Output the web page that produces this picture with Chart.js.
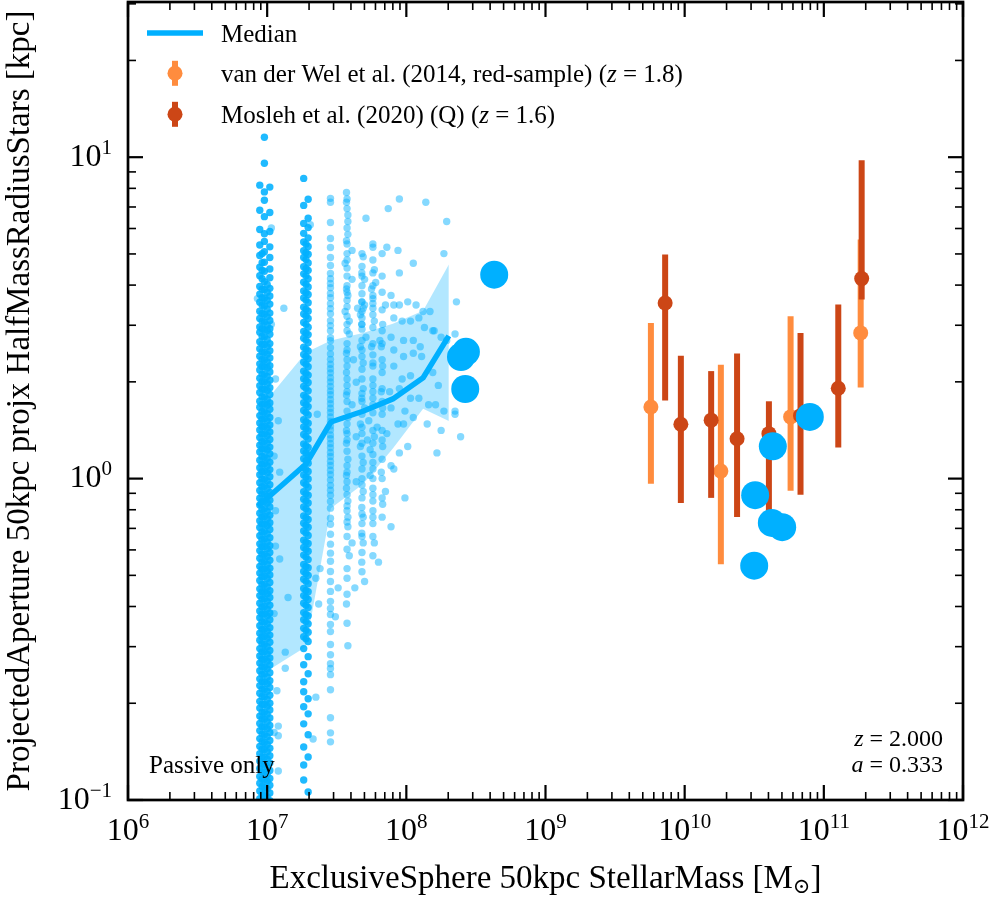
<!DOCTYPE html>
<html lang="en">
<head>
  <meta charset="UTF-8">
  <title>Passive galaxy sizes, z = 2</title>
  <script src="https://cdn.jsdelivr.net/npm/chart.js"></script>
  <style>
    html, body { margin: 0; padding: 0; background: #fff; }
  </style>
</head>
<body>
  <canvas id="sizeChart" width="996" height="900"></canvas>

  <script>
    // ---- axes ----
    const xRange = [1e6, 1e12];
    const yRange = [0.1, 30.4];
    const xTickExp = [6, 7, 8, 9, 10, 11, 12];
    const yTickExp = [-1, 0, 1];

    // ---- binned median and scatter band (kpc) ----
    const binMass   = [8.6e6, 1.9e7, 2.87e7, 4.88e7, 8.0e7, 1.32e8, 2.02e8];
    const binMedian = [0.82, 1.11, 1.50, 1.62, 1.77, 2.06, 2.78];
    const binUpper  = [1.63, 2.47, 2.69, 2.84, 3.03, 3.33, 4.64];
    const binLower  = [0.242, 0.300, 0.809, 0.96, 1.24, 1.65, 1.51];

    // ---- galaxies outside the bins (big markers) ----
    const bigMass = [4.28e8, 2.68e8, 2.47e8, 2.65e8, 7.93e10, 4.30e10, 3.21e10, 4.23e10, 5.02e10, 3.16e10];
    const bigR    = [4.31, 2.48, 2.39, 1.90, 1.556, 1.26, 0.888, 0.728, 0.706, 0.536];

    // ---- van der Wel et al. (2014) ----
    const vdwMass = [5.72e9, 1.82e10, 5.77e10, 1.84e11];
    const vdwR    = [1.67, 1.055, 1.556, 2.84];
    const vdwLo   = [0.964, 0.541, 0.916, 1.92];
    const vdwHi   = [3.05, 2.26, 3.20, 5.55];

    // ---- Mosleh et al. (2020) ----
    const mosMass = [7.24e9, 9.39e9, 1.55e10, 2.38e10, 4.03e10, 6.80e10, 1.27e11, 1.87e11];
    const mosR    = [3.52, 1.476, 1.52, 1.33, 1.38, 1.57, 1.91, 4.19];
    const mosLo   = [1.75, 0.84, 0.871, 0.76, 0.79, 0.89, 1.25, 3.61];
    const mosHi   = [4.98, 2.41, 2.16, 2.45, 1.74, 2.84, 3.48, 9.78];

    // ---- individual galaxies, log10 radius per mass column ----
    const col1Mass = [8.85e6, 9.55e6, 1.045e7, 9.2e6, 1.0e7];
    const col1aLogR = [0.913, 0.835, 0.775, 0.727, 0.694, 0.658, 0.631, 0.598, 0.574, 0.549, 0.521, 0.498, 0.472, 0.455, 0.426, 0.404, 0.381, 0.357, 0.338, 0.312, 0.289, 0.268, 0.241, 0.222, 0.196, 0.173, 0.151, 0.128, 0.104, 0.083, 0.057, 0.034, 0.012, -0.013, -0.037, -0.061, -0.082, -0.108, -0.131, -0.152, -0.178, -0.203, -0.224, -0.248, -0.273, -0.294, -0.317, -0.343, -0.364, -0.388, -0.412, -0.433, -0.458, -0.481, -0.503, -0.529, -0.552, -0.574, -0.598, -0.623, -0.644, -0.668, -0.693, -0.714, -0.739, -0.762, -0.784, -0.809, -0.833, -0.856, -0.879, -0.902, -0.927, -0.948, -0.972, -0.996];
    const col1bLogR = [1.062, 0.981, 0.892, 0.866, 0.815, 0.762, 0.738, 0.706, 0.673, 0.645, 0.613, 0.588, 0.561, 0.537, 0.511, 0.487, 0.463, 0.441, 0.417, 0.392, 0.369, 0.347, 0.324, 0.301, 0.277, 0.254, 0.232, 0.208, 0.186, 0.162, 0.139, 0.116, 0.092, 0.068, 0.046, 0.023, -0.002, -0.024, -0.048, -0.071, -0.094, -0.118, -0.142, -0.164, -0.188, -0.211, -0.236, -0.258, -0.281, -0.304, -0.329, -0.352, -0.374, -0.398, -0.421, -0.446, -0.469, -0.491, -0.516, -0.538, -0.562, -0.586, -0.608, -0.633, -0.656, -0.679, -0.703, -0.727, -0.749, -0.773, -0.797, -0.821, -0.843, -0.867, -0.891, -0.914, -0.938, -0.961, -0.985, -1.004];
    const col1cLogR = [0.907, 0.828, 0.769, 0.721, 0.688, 0.652, 0.625, 0.592, 0.568, 0.543, 0.515, 0.492, 0.466, 0.449, 0.42, 0.398, 0.375, 0.351, 0.332, 0.306, 0.283, 0.262, 0.235, 0.216, 0.19, 0.167, 0.145, 0.122, 0.098, 0.077, 0.051, 0.028, 0.006, -0.019, -0.043, -0.067, -0.088, -0.114, -0.137, -0.158, -0.184, -0.209, -0.23, -0.254, -0.279, -0.3, -0.323, -0.349, -0.37, -0.394, -0.418, -0.439, -0.464, -0.487, -0.509, -0.535, -0.558, -0.58, -0.604, -0.629, -0.65, -0.674, -0.699, -0.72, -0.745, -0.768, -0.79, -0.815, -0.839, -0.862, -0.885, -0.908, -0.933, -0.954, -0.978, -1.002];
    const col1dLogR = [0.70, 0.672, 0.648, 0.622, 0.589, 0.563, 0.54, 0.514, 0.49, 0.466, 0.443, 0.418, 0.395, 0.371, 0.349, 0.325, 0.302, 0.279, 0.255, 0.231, 0.209, 0.185, 0.162, 0.139, 0.115, 0.093, 0.069, 0.045, 0.022, -0.001, -0.025, -0.048, -0.071, -0.096, -0.119, -0.141, -0.166, -0.189, -0.212, -0.235, -0.259, -0.282, -0.305, -0.329, -0.352, -0.375, -0.399, -0.422, -0.445, -0.469, -0.492, -0.514, -0.539, -0.562, -0.585, -0.609, -0.632, -0.655, -0.678, -0.702, -0.726, -0.748, -0.772, -0.795, -0.818, -0.842, -0.865, -0.888, -0.912, -0.935, -0.958, -0.982];
    const col1eLogR = [0.604, 0.58, 0.555, 0.527, 0.504, 0.478, 0.461, 0.432, 0.41, 0.387, 0.363, 0.344, 0.318, 0.295, 0.274, 0.247, 0.228, 0.202, 0.179, 0.157, 0.134, 0.11, 0.089, 0.063, 0.04, 0.018, -0.007, -0.031, -0.055, -0.076, -0.102, -0.125, -0.146, -0.172, -0.197, -0.218, -0.242, -0.267, -0.288, -0.311, -0.337, -0.358, -0.382, -0.406, -0.427, -0.452, -0.475, -0.497, -0.523, -0.546, -0.568, -0.592, -0.617, -0.638, -0.662, -0.687, -0.708, -0.733, -0.756, -0.778, -0.803, -0.827, -0.85, -0.873, -0.896, -0.921, -0.942, -0.966, -0.99];

    const col2Mass = [1.83e7, 1.97e7, 1.9e7];
    const col2aLogR = [0.934, 0.85, 0.794, 0.763, 0.736, 0.709, 0.688, 0.659, 0.637, 0.611, 0.584, 0.562, 0.533, 0.512, 0.486, 0.458, 0.437, 0.409, 0.386, 0.362, 0.334, 0.311, 0.287, 0.259, 0.236, 0.212, 0.183, 0.161, 0.137, 0.108, 0.086, 0.062, 0.034, 0.011, -0.013, -0.041, -0.064, -0.088, -0.116, -0.139, -0.163, -0.192, -0.214, -0.238, -0.267, -0.289, -0.313, -0.342, -0.364, -0.388, -0.417, -0.439, -0.466, -0.492, -0.529, -0.579, -0.632, -0.663, -0.71, -0.763, -0.835, -0.891, -0.938];
    const col2bLogR = [0.869, 0.81, 0.781, 0.749, 0.722, 0.698, 0.671, 0.648, 0.622, 0.596, 0.573, 0.547, 0.521, 0.498, 0.471, 0.448, 0.423, 0.397, 0.373, 0.348, 0.322, 0.299, 0.273, 0.247, 0.224, 0.198, 0.172, 0.149, 0.123, 0.097, 0.074, 0.048, 0.022, -0.001, -0.027, -0.052, -0.076, -0.102, -0.127, -0.151, -0.177, -0.202, -0.226, -0.252, -0.277, -0.301, -0.327, -0.352, -0.376, -0.401, -0.427, -0.452, -0.478, -0.507, -0.554, -0.607, -0.685, -0.732, -0.797, -0.866, -0.975];
    const col2cLogR = [0.73, 0.703, 0.682, 0.653, 0.631, 0.605, 0.578, 0.556, 0.527, 0.506, 0.48, 0.452, 0.431, 0.403, 0.38, 0.356, 0.328, 0.305, 0.281, 0.253, 0.23, 0.206, 0.177, 0.155, 0.131, 0.102, 0.08, 0.056, 0.028, 0.005, -0.019, -0.047, -0.07, -0.094, -0.122, -0.145, -0.169, -0.198, -0.22, -0.244, -0.273, -0.295, -0.319, -0.348, -0.37, -0.394, -0.423, -0.445, -0.472, -0.498];

    const col3Mass = 2.85e7;
    const col3LogR = [0.872, 0.86, 0.797, 0.747, 0.719, 0.688, 0.663, 0.638, 0.622, 0.607, 0.594, 0.576, 0.563, 0.544, 0.529, 0.513, 0.491, 0.476, 0.46, 0.438, 0.429, 0.407, 0.388, 0.371, 0.356, 0.342, 0.329, 0.314, 0.301, 0.287, 0.273, 0.261, 0.246, 0.233, 0.219, 0.206, 0.192, 0.178, 0.164, 0.151, 0.136, 0.124, 0.109, 0.096, 0.081, 0.069, 0.054, 0.041, 0.026, 0.012, -0.004, -0.021, -0.036, -0.052, -0.071, -0.092, -0.123, -0.142, -0.173, -0.204, -0.232, -0.257, -0.289, -0.32, -0.351, -0.382, -0.404, -0.423, -0.454, -0.476, -0.516, -0.548, -0.576, -0.591, -0.61, -0.657, -0.744, -0.791, -0.819];

    // sparser columns further right
    const col4Mass = 3.75e7;
    const col4LogR = [0.87, 0.84, 0.78, 0.73, 0.70, 0.68, 0.655, 0.63, 0.60, 0.58, 0.555, 0.535, 0.505, 0.48, 0.46, 0.42, 0.40, 0.37, 0.35, 0.31, 0.29, 0.27, 0.24, 0.21, 0.17, 0.14, 0.12, 0.085, 0.04, 0.02, -0.01, -0.05, -0.085, -0.10, -0.135, -0.18, -0.22, -0.28, -0.31, -0.36, -0.45];
    const col5Mass = 4.8e7;
    const col5LogR = [0.70, 0.66, 0.63, 0.60, 0.575, 0.55, 0.52, 0.50, 0.465, 0.43, 0.40, 0.38, 0.34, 0.31, 0.265, 0.24, 0.20, 0.16, 0.14, 0.11, 0.07, 0.03, 0.0, -0.02, -0.06, -0.11, -0.14, -0.18, -0.23, -0.29];
    const col6Mass = 5.75e7;
    const col6LogR = [0.73, 0.68, 0.64, 0.60, 0.57, 0.545, 0.51, 0.47, 0.42, 0.385, 0.35, 0.31, 0.27, 0.25, 0.205, 0.15, 0.11, 0.075, 0.05, 0.0, -0.03, -0.07, -0.14, -0.18, -0.24];
    const col7Mass = 6.7e7;
    const col7LogR = [0.70, 0.63, 0.58, 0.525, 0.46, 0.42, 0.37, 0.33, 0.28, 0.24, 0.20, 0.15, 0.12, 0.06, 0.0, -0.06, -0.12];

    // scattered galaxies, [log10 mass, log10 radius]
    const looseLogPts = [
      [7.03, 0.78], [6.93, 0.56], [7.12, 0.53], [7.03, 0.48], [7.06, 0.31], [7.08, 0.18], [7.05, 0.07], [7.09, 0.02],
      [7.06, -0.10], [7.06, -0.21], [7.09, -0.25], [7.15, -0.37], [7.05, -0.42], [7.13, -0.54], [7.13, -0.59],
      [7.07, -0.66], [7.08, -0.77], [7.05, -0.79], [7.08, -0.80], [7.08, -0.91],
      [7.36, 0.20], [7.38, -0.28], [7.35, -0.31], [7.37, -0.39], [7.35, -0.68], [7.33, -0.81], [7.31, 0.79],
      [7.57, 0.89], [7.57, 0.86], [7.58, 0.82], [7.58, 0.80], [7.58, 0.76], [7.57, 0.74], [7.71, 0.81], [7.87, 0.84],
      [7.95, 0.87], [8.14, 0.86], [8.29, 0.80],
      [7.61, 0.71], [7.69, 0.69], [7.76, 0.72], [7.86, 0.72], [7.94, 0.71], [8.27, 0.70], [8.05, 0.67], [7.77, 0.65],
      [7.95, 0.64], [7.56, 0.67], [7.68, 0.64], [7.61, 0.62], [7.70, 0.62], [7.78, 0.61], [7.57, 0.59], [7.75, 0.59],
      [7.89, 0.57], [7.58, 0.57], [7.68, 0.55], [7.69, 0.53], [7.65, 0.53], [7.76, 0.53], [7.85, 0.54], [7.91, 0.54],
      [7.95, 0.54], [8.01, 0.55], [8.07, 0.54], [8.12, 0.52], [8.17, 0.52], [8.36, 0.55], [7.56, 0.52], [7.77, 0.49],
      [7.83, 0.48], [7.91, 0.50], [7.97, 0.49], [8.09, 0.50], [8.19, 0.46], [8.25, 0.44], [8.35, 0.45], [7.59, 0.49],
      [7.68, 0.48], [7.71, 0.44], [7.81, 0.43], [7.89, 0.44], [7.98, 0.43], [8.05, 0.43], [8.10, 0.41], [7.59, 0.45],
      [7.76, 0.56], [7.70, 0.54], [7.67, 0.51], [7.68, 0.48], [8.13, 0.47], [8.20, 0.46], [8.29, 0.43], [8.03, 0.49],
      [7.67, 0.41], [7.75, 0.41], [7.82, 0.41], [7.91, 0.40], [7.98, 0.38], [8.05, 0.39], [8.11, 0.38], [7.57, 0.39],
      [7.62, 0.37], [7.69, 0.36], [7.76, 0.36], [7.83, 0.35], [7.91, 0.35], [7.97, 0.31], [8.03, 0.32], [8.19, 0.33],
      [8.23, 0.29], [7.57, 0.33], [7.64, 0.30], [7.69, 0.28], [7.76, 0.29], [7.82, 0.27], [7.88, 0.27], [7.95, 0.28],
      [8.03, 0.25], [8.09, 0.25], [8.16, 0.23], [8.21, 0.23], [8.27, 0.21], [8.35, 0.21], [8.35, 0.20], [7.57, 0.26],
      [7.61, 0.23], [7.68, 0.25], [7.70, 0.22], [7.76, 0.23], [7.83, 0.22], [7.89, 0.22], [7.99, 0.21], [8.05, 0.19],
      [7.58, 0.19], [7.67, 0.17], [7.73, 0.18], [7.79, 0.16], [7.86, 0.14], [7.94, 0.17], [7.98, 0.17], [8.15, 0.17],
      [8.25, 0.15], [8.39, 0.13], [7.57, 0.15], [7.64, 0.13], [7.72, 0.12], [7.77, 0.13],
      [7.57, 0.11], [7.67, 0.10], [7.74, 0.09], [7.83, 0.10], [7.95, 0.08], [8.01, 0.10], [8.22, 0.08], [7.58, 0.06],
      [7.69, 0.05], [7.76, 0.03], [7.89, 0.04], [7.57, 0.01], [7.64, -0.01], [7.74, 0.01], [7.82, 0.02], [7.91, 0.03],
      [7.57, -0.03], [7.69, -0.04], [7.76, -0.05], [7.85, -0.04], [7.99, -0.06], [7.58, -0.07], [7.68, -0.09],
      [7.76, -0.10], [7.83, -0.08], [7.58, -0.12], [7.69, -0.12], [7.76, -0.12], [7.58, -0.15], [7.68, -0.17],
      [7.89, -0.15], [7.61, -0.20], [7.69, -0.20], [7.77, -0.20], [7.59, -0.24], [7.68, -0.26], [7.80, -0.26],
      [7.51, -0.34], [7.63, -0.34], [7.70, -0.32], [7.57, -0.39], [7.58, -0.52], [7.49, -0.43]
    ];

    // ---- colours ----
    const BLUE = 'rgb(0, 176, 255)';
    const DOT = 'rgba(0, 176, 255, 0.48)';
    const DOT_DENSE = 'rgba(0, 176, 255, 0.88)';
    const BAND = 'rgba(0, 176, 255, 0.3)';
    const VDW = 'rgb(255, 140, 62)';
    const MOS = 'rgb(204, 70, 22)';
    const SERIF = '"Liberation Serif", "DejaVu Serif", serif';

    // build point lists
    const toPts = (xs, ys) => xs.map((m, i) => ({ x: m, y: ys[i] }));
    const addColumn = (list, mass, logs) => logs.forEach(v => list.push({ x: mass, y: 10 ** v }));

    // the two crowded mass columns: hundreds of galaxies piled up
    const crowd = [];
    [col1aLogR, col1bLogR, col1cLogR, col1dLogR, col1eLogR].forEach((col, j) => addColumn(crowd, col1Mass[j], col));
    [col2aLogR, col2bLogR, col2cLogR].forEach((col, j) => addColumn(crowd, col2Mass[j], col));

    const cloud = [];
    addColumn(cloud, col3Mass, col3LogR);
    addColumn(cloud, col4Mass, col4LogR);
    addColumn(cloud, col5Mass, col5LogR);
    addColumn(cloud, col6Mass, col6LogR);
    addColumn(cloud, col7Mass, col7LogR);
    looseLogPts.forEach(([m, r]) => cloud.push({ x: 10 ** m, y: 10 ** r }));

    // vertical error bars, drawn under the markers of their own dataset
    const errorBars = {
      id: 'errorBars',
      beforeDatasetDraw(chart, args) {
        const ds = chart.data.datasets[args.index];
        if (!ds.errLo) return;
        const { ctx, scales: { x, y } } = chart;
        ctx.save();
        ctx.strokeStyle = ds.backgroundColor;
        ctx.lineWidth = 6;
        ds.data.forEach((p, i) => {
          const px = x.getPixelForValue(p.x);
          ctx.beginPath();
          ctx.moveTo(px, y.getPixelForValue(ds.errLo[i]));
          ctx.lineTo(px, y.getPixelForValue(ds.errHi[i]));
          ctx.stroke();
        });
        ctx.restore();
      }
    };

    // text pieces: [text, italic, size, dy]
    function pieceWidth(ctx, pieces) {
      let w = 0;
      pieces.forEach(([t, it, size]) => {
        ctx.font = (it ? 'italic ' : '') + size + 'px ' + SERIF;
        w += ctx.measureText(t).width;
      });
      return w;
    }
    function drawPieces(ctx, pieces, x, y) {
      ctx.textAlign = 'left';
      ctx.textBaseline = 'alphabetic';
      pieces.forEach(([t, it, size, dy]) => {
        ctx.font = (it ? 'italic ' : '') + size + 'px ' + SERIF;
        ctx.fillText(t, x, y + (dy || 0));
        x += ctx.measureText(t).width;
      });
    }
    function powerPieces(e) {
      return [['10', false, 32, 0], [String(e).replace('-', '\u2212'), false, 21, -12]];
    }

    // frame, inward ticks, tick labels, axis titles, legend, notes
    const decor = {
      id: 'decor',
      afterDraw(chart) {
        const { ctx, chartArea: a, scales: { x, y } } = chart;
        ctx.save();
        ctx.fillStyle = '#000';
        ctx.strokeStyle = '#000';

        const tick = (x0, y0, dx, dy, w) => {
          ctx.lineWidth = w;
          ctx.beginPath(); ctx.moveTo(x0, y0); ctx.lineTo(x0 + dx, y0 + dy); ctx.stroke();
        };
        xTickExp.forEach((e, i) => {
          const px = x.getPixelForValue(10 ** e);
          tick(px, a.bottom, 0, -15, 2.2);
          tick(px, a.top, 0, 15, 2.2);
          if (i === xTickExp.length - 1) return;
          for (let k = 2; k < 10; k++) {
            const mx = x.getPixelForValue(k * 10 ** e);
            tick(mx, a.bottom, 0, -8, 1.6);
            tick(mx, a.top, 0, 8, 1.6);
          }
        });
        yTickExp.forEach(e => {
          const py = y.getPixelForValue(10 ** e);
          tick(a.left, py, 15, 0, 2.2);
          tick(a.right, py, -15, 0, 2.2);
          for (let k = 2; k < 10; k++) {
            if (k * 10 ** e > yRange[1]) break;
            const my = y.getPixelForValue(k * 10 ** e);
            tick(a.left, my, 8, 0, 1.6);
            tick(a.right, my, -8, 0, 1.6);
          }
        });

        // frame
        ctx.lineWidth = 2.7;
        ctx.strokeRect(a.left, a.top, a.right - a.left, a.bottom - a.top);

        // tick labels
        xTickExp.forEach(e => {
          const p = powerPieces(e);
          const w = pieceWidth(ctx, p);
          drawPieces(ctx, p, x.getPixelForValue(10 ** e) - w / 2, a.bottom + 40);
        });
        yTickExp.forEach(e => {
          const p = powerPieces(e);
          const w = pieceWidth(ctx, p);
          drawPieces(ctx, p, a.left - 16 - w, y.getPixelForValue(10 ** e) + 8.5);
        });

        // axis titles
        const xt = [['ExclusiveSphere 50kpc StellarMass [M', false, 33, 0], ['\u2299', false, 21, 5], [']', false, 33, 0]];
        drawPieces(ctx, xt, (a.left + a.right) / 2 - pieceWidth(ctx, xt) / 2, 888);
        ctx.save();
        ctx.translate(29, (a.top + a.bottom) / 2);
        ctx.rotate(-Math.PI / 2);
        ctx.font = '33px ' + SERIF;
        ctx.textAlign = 'center';
        ctx.fillText('ProjectedAperture 50kpc projx HalfMassRadiusStars [kpc]', 0, 0);
        ctx.restore();

        // legend
        const lx = a.left + 47, tx = a.left + 93;
        ctx.strokeStyle = BLUE;
        ctx.lineWidth = 5.7;
        ctx.beginPath(); ctx.moveTo(a.left + 19, a.top + 31); ctx.lineTo(a.left + 75, a.top + 31); ctx.stroke();
        drawPieces(ctx, [['Median', false, 25]], tx, a.top + 39.5);
        [[VDW, 71.3, [['van der Wel et al. (2014, red-sample) (', false, 25], ['z', true, 25], [' = 1.8)', false, 25]]],
         [MOS, 112.3, [['Mosleh et al. (2020) (Q) (', false, 25], ['z', true, 25], [' = 1.6)', false, 25]]]]
          .forEach(([col, cy, txt]) => {
            ctx.strokeStyle = col;
            ctx.fillStyle = col;
            ctx.lineWidth = 6;
            ctx.beginPath(); ctx.moveTo(lx, a.top + cy - 12.5); ctx.lineTo(lx, a.top + cy + 12.5); ctx.stroke();
            ctx.beginPath(); ctx.arc(lx, a.top + cy, 7.5, 0, Math.PI * 2); ctx.fill();
            ctx.fillStyle = '#000';
            drawPieces(ctx, txt, tx, a.top + cy + 8.2);
          });

        // notes
        ctx.fillStyle = '#000';
        drawPieces(ctx, [['Passive only', false, 25]], a.left + 21, a.bottom - 27);
        const zt = [['z', true, 24], [' = 2.000', false, 24]];
        const at = [['a', true, 24], [' = 0.333', false, 24]];
        drawPieces(ctx, zt, a.right - 20 - pieceWidth(ctx, zt), a.bottom - 54);
        drawPieces(ctx, at, a.right - 20 - pieceWidth(ctx, at), a.bottom - 28);
        ctx.restore();
      }
    };

    const ctx = document.getElementById('sizeChart').getContext('2d');
    const sizeChart = new Chart(ctx, {
      type: 'scatter',
      data: {
        datasets: [
          { label: 'Outside bins', data: toPts(bigMass, bigR), order: 0,
            pointRadius: 14, backgroundColor: BLUE, borderWidth: 0 },
          { label: 'Mosleh et al. (2020) (Q)', data: toPts(mosMass, mosR), order: 1,
            pointRadius: 7.5, backgroundColor: MOS, borderWidth: 0, errLo: mosLo, errHi: mosHi },
          { label: 'van der Wel et al. (2014, red-sample)', data: toPts(vdwMass, vdwR), order: 2,
            pointRadius: 7.5, backgroundColor: VDW, borderWidth: 0, errLo: vdwLo, errHi: vdwHi },
          { label: 'Median', data: toPts(binMass, binMedian), order: 3, showLine: true,
            borderColor: BLUE, borderWidth: 5.5, pointRadius: 0, tension: 0, fill: false,
            borderJoinStyle: 'round' },
          { label: 'Upper', data: toPts(binMass, binUpper), order: 4, showLine: true,
            borderWidth: 0, pointRadius: 0, tension: 0, fill: '+1', backgroundColor: BAND },
          { label: 'Lower', data: toPts(binMass, binLower), order: 5, showLine: true,
            borderWidth: 0, pointRadius: 0, tension: 0, fill: false },
          { label: 'Galaxies', data: cloud, order: 6,
            pointRadius: 3.7, backgroundColor: DOT, borderWidth: 0 },
          { label: 'Galaxies (crowded columns)', data: crowd, order: 7,
            pointRadius: 3.7, backgroundColor: DOT_DENSE, borderWidth: 0 }
        ]
      },
      options: {
        responsive: false,
        animation: false,
        devicePixelRatio: 1,
        events: [],
        layout: { autoPadding: false, padding: { left: 128, right: 33, top: 2, bottom: 100 } },
        plugins: { legend: { display: false }, tooltip: { enabled: false } },
        scales: {
          x: { type: 'logarithmic', min: xRange[0], max: xRange[1], display: false },
          y: { type: 'logarithmic', min: yRange[0], max: yRange[1], display: false }
        }
      },
      plugins: [errorBars, decor]
    });
  </script>
</body>
</html>
